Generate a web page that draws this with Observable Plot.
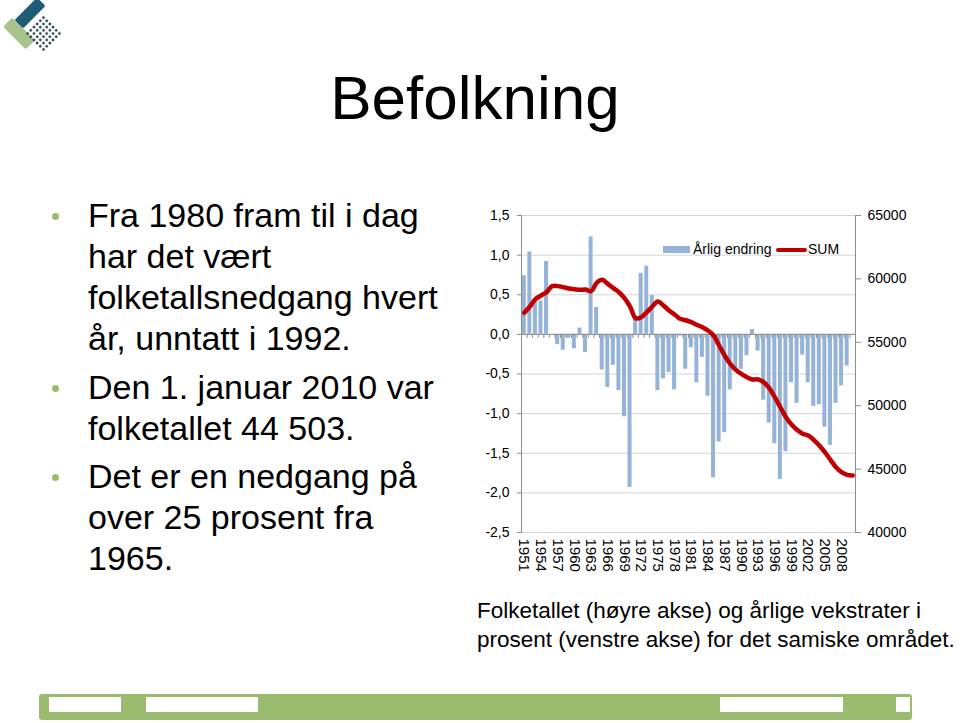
<!DOCTYPE html>
<html>
<head>
<meta charset="utf-8">
<script src="https://cdn.jsdelivr.net/npm/d3@7"></script>
<script src="https://cdn.jsdelivr.net/npm/@observablehq/plot@0.6"></script>
<style>
  html, body { margin: 0; padding: 0; background: #fff; }
  body { width: 960px; height: 723px; position: relative; overflow: hidden;
         font-family: "Liberation Sans", Arial, sans-serif; color: #000; }
  .abs { position: absolute; }
  #title { left: 0; width: 950px; top: 62px; text-align: center; font-size: 62px; line-height: 72px; }
  .para { position: absolute; left: 88px; font-size: 34px; line-height: 41px; white-space: nowrap; }
  .bullet { position: absolute; left: -36px; top: 18px; width: 7px; height: 7px; border-radius: 50%; background: #9bbb6f; }
  #caption { left: 477px; top: 596px; font-size: 22.5px; line-height: 29px; white-space: nowrap; }
  #chart { left: 460px; top: 200px; }
  .leg { position: absolute; font-size: 14px; line-height: 16px; white-space: nowrap; }
  #footer { left: 39px; top: 694px; width: 873px; height: 26px; background: #9bbb6f; border-radius: 3px; }
  .fbox { position: absolute; top: 3px; height: 15px; background: #fff; }
  #chart g[aria-label="x-axis tick label"] text { font-size: 15px; }
</style>
</head>
<body>

<!-- logo -->
<div class="abs" style="left:14px;top:7px;width:32px;height:12px;background:#1e5c78;border-radius:2px;transform:rotate(-45deg);"></div>
<div class="abs" style="left:3px;top:27px;width:32px;height:13px;background:#a9c28c;border-radius:2px;transform:rotate(45deg);"></div>
<div class="abs" style="left:30px;top:20px;width:27px;height:27px;transform:rotate(45deg);background-image:radial-gradient(circle,#2e4654 1.1px,transparent 1.5px);background-size:4.5px 4.5px;"></div>

<div id="title" class="abs">Befolkning</div>

<div class="para" style="top:195px;"><span class="bullet"></span>Fra 1980 fram til i dag<br>har det vært<br>folketallsnedgang hvert<br>år, unntatt i 1992.</div>
<div class="para" style="top:367px;"><span class="bullet"></span>Den 1. januar 2010 var<br>folketallet 44 503.</div>
<div class="para" style="top:456px;"><span class="bullet"></span>Det er en nedgang på<br>over 25 prosent fra<br>1965.</div>

<div id="chart" class="abs"></div>

<div class="abs" style="left:663px;top:246px;width:27px;height:7px;background:#95b3d7;"></div>
<div class="leg" style="left:693px;top:241px;">Årlig endring</div>
<div class="abs" style="left:776px;top:248px;width:31px;height:4px;background:#c00000;border-radius:2px;"></div>
<div class="leg" style="left:808px;top:241px;">SUM</div>

<div id="caption" class="abs">Folketallet (høyre akse) og årlige vekstrater i<br>prosent (venstre akse) for det samiske området.</div>

<div id="footer" class="abs">
  <div class="fbox" style="left:10px;width:72px;"></div>
  <div class="fbox" style="left:107px;width:112px;"></div>
  <div class="fbox" style="left:681px;width:123px;"></div>
  <div class="fbox" style="left:857px;width:14px;"></div>
</div>

<script>
// ---- data ----
const years = [1951,1952,1953,1954,1955,1956,1957,1958,1959,1960,
               1961,1962,1963,1964,1965,1966,1967,1968,1969,1970,
               1971,1972,1973,1974,1975,1976,1977,1978,1979,1980,
               1981,1982,1983,1984,1985,1986,1987,1988,1989,1990,
               1991,1992,1993,1994,1995,1996,1997,1998,1999,2000,
               2001,2002,2003,2004,2005,2006,2007,2008,2009,2010];

// Årlig endring (prosent), venstre akse
const changes = [0.74, 1.04, 0.45, 0.42, 0.92, 0.00, -0.13, -0.20, -0.05, -0.18,
                 0.08, -0.23, 1.23, 0.34, -0.45, -0.67, -0.39, -0.71, -1.04, -1.93,
                 0.19, 0.77, 0.86, 0.49, -0.71, -0.56, -0.48, -0.70, -0.02, -0.44,
                 -0.17, -0.61, -0.29, -0.78, -1.81, -1.36, -1.24, -0.70, -0.45, -0.44,
                 -0.27, 0.06, -0.21, -0.83, -1.12, -1.38, -1.83, -1.48, -0.61, -0.87,
                 -0.26, -0.61, -0.91, -0.89, -1.17, -1.40, -0.87, -0.65, -0.40, null];

// SUM (folketall), høyre akse
const population = [57330, 57820, 58400, 58690, 58950, 59430, 59430, 59350, 59240, 59190,
                    59140, 59160, 59030, 59690, 59930, 59610, 59270, 58950, 58480, 57820,
                    56900, 56980, 57380, 57820, 58220, 57900, 57510, 57190, 56850, 56740,
                    56590, 56380, 56190, 55930, 55540, 54750, 53960, 53300, 52830, 52515,
                    52250, 52070, 52070, 51860, 51380, 50670, 49880, 49090, 48520, 48100,
                    47790, 47650, 47310, 46860, 46330, 45730, 45150, 44760, 44550, 44503];

const leftTicks = [-2.5, -2.0, -1.5, -1.0, -0.5, 0.0, 0.5, 1.0, 1.5];
const rightTicks = [40000, 45000, 50000, 55000, 60000, 65000];
const xLabels = [1951,1954,1957,1960,1963,1966,1969,1972,1975,1978,
                 1981,1984,1987,1990,1993,1996,1999,2002,2005,2008];

// ---- mapping of the right axis onto the left scale ----
const L0 = leftTicks[0], L1 = leftTicks[leftTicks.length - 1];
const R0 = rightTicks[0], R1 = rightTicks[rightTicks.length - 1];
const toLeft = v => L0 + (v - R0) * (L1 - L0) / (R1 - R0);
const fromLeft = y => R0 + (y - L0) * (R1 - R0) / (L1 - L0);

const barData = years.map((y, i) => ({year: String(y), v: changes[i]})).filter(d => d.v != null);
const lineData = years.map((y, i) => ({year: String(y), p: toLeft(population[i])}));

const W = 460, H = 390;
const mL = 61, mR = 65, mT = 15, mB = 58;
const step = (W - mL - mR) / years.length;

const chart = Plot.plot({
  width: W, height: H,
  marginLeft: mL, marginRight: mR, marginTop: mT, marginBottom: mB,
  style: {fontFamily: "'Liberation Sans', Arial, sans-serif", fontSize: "14px", color: "#000", background: "transparent", overflow: "visible"},
  x: {type: "band", domain: years.map(String), paddingInner: 0.28, paddingOuter: 0.14},
  y: {domain: [L0, L1]},
  marks: [
    Plot.ruleY(leftTicks, {stroke: "#d4d4d4", strokeWidth: 1}),
    Plot.barY(barData, {x: "year", y: "v", fill: "#95b3d7"}),
    Plot.ruleY([0], {stroke: "#8c8c8c", strokeWidth: 1}),
    Plot.ruleX(years.map(String), {x: d => d, y1: 0, y2: -0.05, dx: -step / 2, stroke: "#8c8c8c"}),
    Plot.line(lineData, {x: "year", y: "p", stroke: "#c00000", strokeWidth: 4.5, curve: "catmull-rom", strokeLinejoin: "round", strokeLinecap: "round"}),
    Plot.frame({anchor: "left", stroke: "#8c8c8c"}),
    Plot.frame({anchor: "right", stroke: "#8c8c8c"}),
    Plot.axisY(leftTicks, {anchor: "left", tickFormat: d => d.toFixed(1).replace(".", ","), tickSize: 4, tickPadding: 8, stroke: "#8c8c8c", label: null}),
    Plot.axisY(rightTicks.map(toLeft), {anchor: "right", tickFormat: d => String(Math.round(fromLeft(d))), tickSize: 5, tickPadding: 7, stroke: "#8c8c8c", label: null}),
    Plot.axisX(xLabels.map(String), {anchor: "bottom", tickRotate: 90, tickSize: 0, tickPadding: 6, fontSize: 15, label: null})
  ]
});
document.getElementById("chart").appendChild(chart);
</script>
</body>
</html>
